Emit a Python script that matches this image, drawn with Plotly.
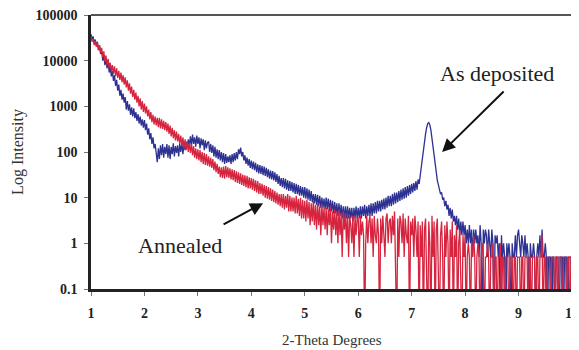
import plotly.graph_objects as go

# 2-theta sampling grid
two_theta_start = 1.0
two_theta_step = 0.02

# Intensities (0.01 = zero counts, drawn below the axis floor)
as_deposited = [
    38000, 30000, 34000, 24000, 29000, 21000, 26000, 17000, 21000, 14000,
    16000, 10000, 13000, 8000, 11000, 6800, 9500, 5500, 7500, 4500,
    6000, 3600, 4800, 2800, 3800, 2200, 3000, 1700, 2300, 1400,
    1900, 1200, 1600, 850, 1300, 800, 1100, 650, 950, 600,
    900, 550, 750, 480, 680, 420, 600, 380, 520, 340,
    500, 300, 420, 240, 330, 190, 260, 150, 210, 120,
    150, 80, 60, 120, 70, 140, 85, 150, 75, 130,
    90, 150, 75, 140, 70, 130, 90, 155, 80, 135,
    95, 140, 80, 150, 100, 160, 90, 150, 110, 170,
    120, 190, 130, 220, 140, 240, 150, 210, 130, 230,
    150, 210, 120, 200, 140, 190, 110, 180, 120, 160,
    170, 100, 150, 95, 140, 80, 130, 75, 115, 70,
    110, 65, 100, 60, 95, 55, 90, 58, 80, 60,
    85, 55, 90, 60, 95, 65, 100, 70, 115, 90,
    125, 80, 100, 65, 85, 55, 75, 50, 70, 45,
    65, 42, 62, 40, 58, 36, 54, 34, 52, 33,
    50, 31, 48, 30, 45, 28, 42, 26, 39, 25,
    38, 24, 36, 22, 33, 20, 30, 18, 27, 17,
    27, 16, 26, 15, 24, 14, 23, 14, 22, 13,
    21, 12, 20, 12, 19, 11, 18, 11, 17, 10,
    17, 9.5, 16, 9, 15, 8.5, 14, 8, 12, 7.5,
    12, 7, 11.5, 6.5, 11, 6, 10, 6, 9.5, 5.5,
    10, 5.5, 9.5, 5, 9, 5, 8.5, 4.5, 8, 4.5,
    7.5, 4, 7.5, 4, 7, 3.5, 6.5, 3.5, 6.5, 3.5,
    6.5, 3.5, 6, 3.5, 6, 3, 6, 3.5, 6.5, 3.5,
    6, 3.5, 6.5, 3.5, 6.5, 4, 7, 3.5, 6.5, 4,
    7, 4, 7.5, 4, 7.5, 4.5, 8, 4.5, 8.5, 5,
    8.5, 5, 9, 5.5, 9.5, 5.5, 10, 6, 11, 6.5,
    11, 6.5, 12, 7, 13, 7.5, 13, 8, 14, 8.5,
    15, 9, 16, 9.5, 17, 10, 18, 11, 19, 12,
    20, 13, 21, 14, 23, 15, 25, 20, 32, 45,
    70, 110, 170, 250, 340, 420, 440, 390, 300, 200,
    120, 75, 45, 32, 24, 19, 16, 12, 13, 9,
    10, 6.5, 8.5, 5.5, 7, 4, 6, 3.5, 5.5, 3,
    4, 2.5, 4, 2, 3.5, 1.5, 3, 1.5, 3, 1.5,
    2.5, 1, 2, 1, 2.5, 1, 2, 0.5, 2, 1,
    2, 1, 1.5, 0.5, 2.5, 1, 0.01, 2, 1, 2,
    1.5, 0.5, 2, 1, 0.5, 2, 1, 0.01, 1.5, 1,
    1.5, 0.5, 1, 0.01, 1.5, 0.5, 1, 0.5, 0.01, 1,
    0.5, 1, 0.5, 0.01, 1, 0.5, 0.5, 1.5, 0.5, 1.5,
    2, 1, 0.5, 1.5, 1, 0.5, 1.5, 0.5, 1, 0.5,
    0.01, 1, 0.5, 0.5, 1, 0.5, 0.01, 0.5, 1, 0.5,
    1.5, 0.5, 2, 0.5, 0.5, 1, 0.5, 0.01, 0.5, 0.5,
    0.5, 0.01, 0.5, 0.5, 0.01, 0.5, 0.5, 0.5, 0.01, 0.5,
    0.5, 0.5, 0.01, 0.5, 0.5, 0.5, 0.01, 0.5, 0.5, 0.5,
    0.01,
]

annealed = [
    34000, 26000, 30000, 22000, 27000, 20000, 25000, 17000, 22000, 15000,
    19000, 12000, 16000, 9500, 13000, 8000, 11000, 7000, 9000, 6000,
    8000, 5200, 7500, 4600, 6800, 4200, 6000, 3800, 5500, 3400,
    4800, 3000, 4300, 2600, 3700, 2200, 3200, 1900, 2700, 1600,
    2300, 1400, 2000, 1200, 1700, 1000, 1500, 850, 1300, 750,
    1150, 700, 1000, 600, 850, 520, 750, 450, 650, 400,
    600, 380, 560, 350, 560, 330, 520, 320, 480, 300,
    450, 280, 420, 250, 380, 220, 340, 200, 300, 180,
    280, 170, 250, 150, 230, 135, 210, 120, 190, 110,
    170, 100, 160, 95, 150, 85, 135, 75, 120, 70,
    115, 65, 110, 60, 100, 55, 95, 52, 90, 50,
    80, 48, 75, 45, 70, 40, 62, 36, 55, 33,
    48, 28, 46, 27, 48, 26, 50, 28, 46, 27,
    44, 25, 42, 24, 40, 22, 38, 21, 36, 20,
    34, 19, 32, 18, 31, 17, 30, 16, 28, 16,
    27, 15, 26, 14, 24, 13, 23, 12, 21, 12,
    20, 11, 19, 10, 18, 9.5, 17, 9, 16, 8.5,
    15, 8, 14, 7.5, 13, 7, 12, 6.5, 12, 6,
    12, 5.5, 11, 6, 12, 5, 11, 5, 10, 5,
    10, 4.5, 11, 4.5, 9.5, 4, 10, 3.5, 9, 3.5,
    8.5, 3, 9, 3.5, 8, 2.5, 7.5, 3, 8.5, 2.5,
    7, 2, 7.5, 2.5, 6.5, 1.5, 7, 2.5, 6, 2,
    6, 1.5, 5.5, 2.5, 6.5, 1, 5, 2, 5.5, 1.5,
    5, 1, 5.5, 1.5, 4.5, 0.5, 5, 2, 4.5, 1,
    4.5, 0.5, 4, 2.5, 1, 4, 0.5, 4, 1.5, 3.5,
    3.5, 0.5, 4, 1.5, 3, 1.5, 0.01, 1, 4, 1,
    3, 4, 1, 3.5, 0.5, 4, 1.5, 1, 3.5, 1.5,
    0.01, 3.5, 1, 4, 1.5, 0.5, 3.5, 4.5, 1, 3,
    3.5, 1, 4, 1.5, 5, 1, 0.01, 3.5, 0.5, 4,
    3, 1, 4.5, 0.5, 3.5, 1.5, 1, 4, 0.01, 3,
    1.5, 3.5, 0.5, 4, 2, 0.5, 3, 0.01, 2.5, 0.5,
    3, 0.01, 2, 3.5, 0.5, 0.01, 3, 1, 0.01, 4,
    0.5, 3, 0.01, 2, 3.5, 0.5, 0.01, 1.5, 3, 0.5,
    0.01, 2.5, 0.5, 3, 1, 0.01, 2, 0.5, 3, 0.01,
    1.5, 0.5, 2.5, 0.01, 1, 2, 0.5, 0.01, 1.5, 0.5,
    1.5, 0.01, 0.5, 1, 0.5, 0.01, 1, 0.5, 1.5, 0.5,
    0.01, 0.5, 1, 0.5, 0.01, 0.5, 1, 0.5, 0.01, 0.5,
    0.5, 1, 0.5, 0.01, 0.5, 0.5, 1, 0.01, 0.5, 0.5,
    0.01, 0.5, 0.5, 1, 0.01, 0.5, 0.5, 0.01, 0.5, 0.5,
    0.5, 0.01, 0.5, 0.5, 0.5, 0.01, 0.5, 0.5, 0.01, 0.5,
    0.5, 0.5, 0.01, 0.5, 0.5, 0.01, 0.5, 0.5, 0.5, 0.01,
    0.5, 0.5, 0.01, 0.5, 0.5, 0.5, 0.01, 0.5, 0.5, 0.01,
    0.5, 0.5, 1.5, 0.01, 0.5, 0.5, 0.01, 0.5, 0.5, 0.5,
    0.01, 0.5, 0.5, 0.5, 0.01, 0.5, 0.5, 0.01, 0.5, 0.5,
    0.5, 0.01, 0.5, 0.5, 0.5, 0.01, 0.5, 0.5, 0.01, 0.5,
    0.5,
]

x_tick_values = [1, 2, 3, 4, 5, 6, 7, 8, 9, 10]
y_tick_values = [0.1, 1, 10, 100, 1000, 10000, 100000]
y_tick_labels = ["0.1", "1", "10", "100", "1000", "10000", "100000"]

two_theta_blue = [round(two_theta_start + i * two_theta_step, 2) for i in range(len(as_deposited))]
two_theta_red = [round(two_theta_start + i * two_theta_step, 2) for i in range(len(annealed))]

SERIF = "Liberation Serif, Times New Roman, serif"

fig = go.Figure()
fig.add_trace(go.Scatter(x=two_theta_blue, y=as_deposited, mode="lines",
                         line=dict(color="#2d3192", width=1.3), name="As deposited"))
fig.add_trace(go.Scatter(x=two_theta_red, y=annealed, mode="lines",
                         line=dict(color="#d6243e", width=1.3), name="Annealed"))

# page body has an 8px margin, so the figure is 8px smaller than the window
fig.update_layout(
    width=571, height=342,
    margin=dict(l=83, r=7, t=7, b=61),
    plot_bgcolor="white", paper_bgcolor="white",
    showlegend=False,
    font=dict(family=SERIF, color="#222"),
    xaxis=dict(
        range=[1, 10], tickvals=x_tick_values, ticks="outside", ticklen=4,
        tickcolor="#777", tickwidth=1,
        showline=True, linecolor="#222", linewidth=2.5,
        showgrid=False, zeroline=False, automargin=False,
        ticklabeloverflow="allow",
        tickfont=dict(family=SERIF, size=14, color="#222", weight="bold"),
        ticklabelstandoff=5,
    ),
    yaxis=dict(
        type="log", range=[-1, 5], tickvals=y_tick_values, ticktext=y_tick_labels,
        ticks="outside", ticklen=4, tickcolor="#777", tickwidth=1,
        showline=True, linecolor="#222", linewidth=2.5,
        showgrid=False, zeroline=False, automargin=False,
        ticklabeloverflow="allow",
        tickfont=dict(family=SERIF, size=14, color="#222", weight="bold"),
        ticklabelstandoff=4,
    ),
    shapes=[
        dict(type="line", xref="paper", yref="paper", x0=0, x1=1, y0=1, y1=1,
             line=dict(color="#555", width=2)),
        dict(type="line", xref="paper", yref="paper", x0=1, x1=1, y0=0, y1=1,
             line=dict(color="#555", width=2)),
    ],
    annotations=[
        dict(x=0.5, y=-0.186, xref="paper", yref="paper", text="2-Theta Degrees",
             showarrow=False, xanchor="center", yanchor="middle",
             font=dict(family=SERIF, size=15, color="#333")),
        dict(x=-0.152, y=0.5, xref="paper", yref="paper", text="Log Intensity",
             showarrow=False, textangle=-90, xanchor="center", yanchor="middle",
             font=dict(family=SERIF, size=16, color="#333")),
        dict(x=8.6, y=3.73, xref="x", yref="y", text="As deposited", showarrow=False,
             font=dict(family=SERIF, size=22, color="#222")),
        dict(x=2.67, y=-0.04, xref="x", yref="y", text="Annealed", showarrow=False,
             font=dict(family=SERIF, size=22, color="#222")),
        dict(x=7.57, y=2.0, xref="x", yref="y", text="", showarrow=True,
             ax=63, ay=-62, arrowhead=2, arrowsize=1.3, arrowwidth=2, arrowcolor="#111"),
        dict(x=4.22, y=0.88, xref="x", yref="y", text="", showarrow=True,
             ax=-41, ay=22, arrowhead=2, arrowsize=1.3, arrowwidth=2, arrowcolor="#111"),
    ],
)

fig.write_html("out.html")
